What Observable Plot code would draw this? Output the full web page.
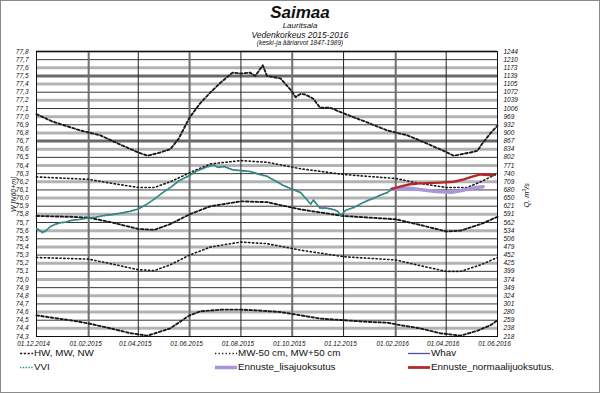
<!DOCTYPE html>
<html><head><meta charset="utf-8">
<script src="https://cdn.jsdelivr.net/npm/d3@7"></script>
<script src="https://cdn.jsdelivr.net/npm/@observablehq/plot@0.6"></script>
<style>
html,body{margin:0;padding:0;background:#fff;}
#wrap{position:relative;width:600px;height:393px;overflow:hidden;font-family:"Liberation Sans",Arial,sans-serif;background:#fff;}
#chart{position:absolute;left:0;top:0;}
#border{position:absolute;left:0;top:0;width:598px;height:391px;border:1px solid #8a8a8a;pointer-events:none;}
.t{position:absolute;left:0;width:600px;text-align:center;font-style:italic;color:#111;white-space:nowrap;line-height:1;}
.lg{position:absolute;font-size:9.8px;color:#111;white-space:nowrap;display:flex;align-items:center;line-height:1;}
.lg svg{display:block;}
.ax{position:absolute;font-style:italic;color:#111;white-space:nowrap;line-height:1;transform-origin:center center;}
</style>
</head><body>
<div id="wrap">
  <div id="chart"></div>
  <div class="t" style="top:4px;font-size:17px;font-weight:bold;">Saimaa</div>
  <div class="t" style="top:22px;font-size:8px;">Lauritsala</div>
  <div class="t" style="top:30.5px;font-size:8.5px;">Vedenkorkeus 2015-2016</div>
  <div class="t" style="top:40px;font-size:6.5px;">(keski-ja ääriarvot 1847-1989)</div>
  <div id="legend"></div>
  <div id="border"></div>
</div>
<script>
// ---- Data ----
const wLevels = [74.3,74.4,74.5,74.6,74.7,74.8,74.9,75.0,75.1,75.2,75.3,75.4,75.5,75.6,75.7,75.8,75.9,76.0,76.1,76.2,76.3,76.4,76.5,76.6,76.7,76.8,76.9,77.0,77.1,77.2,77.3,77.4,77.5,77.6,77.7,77.8];
const qLabels = ["218","238","259","280","301","324","349","374","399","425","452","479","506","534","562","591","621","650","680","709","740","771","802","834","867","900","932","969","1006","1039","1072","1105","1139","1173","1210","1244"];
const xTicks = ["2014-12-01","2015-02-01","2015-04-01","2015-06-01","2015-08-01","2015-10-01","2015-12-01","2016-02-01","2016-04-01","2016-06-01"];
const xDomain = ["2014-12-01","2016-06-01"];

const HW = [["2014-12-01",77.03],["2014-12-20",76.94],["2015-01-22",76.83],["2015-02-15",76.77],["2015-03-10",76.66],["2015-04-01",76.56],["2015-04-12",76.52],["2015-04-27",76.56],["2015-05-09",76.60],["2015-05-19",76.73],["2015-06-01",76.99],["2015-06-14",77.17],["2015-06-26",77.30],["2015-07-08",77.42],["2015-07-22",77.54],["2015-08-01",77.53],["2015-08-12",77.54],["2015-08-18",77.50],["2015-08-27",77.63],["2015-09-01",77.50],["2015-09-17",77.47],["2015-09-29",77.33],["2015-10-05",77.24],["2015-10-11",77.28],["2015-10-17",77.27],["2015-10-26",77.22],["2015-11-03",77.11],["2015-11-15",77.11],["2015-12-01",77.04],["2015-12-29",76.93],["2016-01-22",76.83],["2016-02-15",76.77],["2016-03-09",76.67],["2016-03-29",76.58],["2016-04-10",76.52],["2016-04-30",76.56],["2016-05-08",76.58],["2016-05-14",76.67],["2016-05-24",76.80],["2016-06-01",76.89]];
const MWp50 = [["2014-12-01",76.26],["2015-01-10",76.24],["2015-02-01",76.23],["2015-03-01",76.18],["2015-04-01",76.13],["2015-04-20",76.13],["2015-05-09",76.20],["2015-06-01",76.31],["2015-06-26",76.42],["2015-08-01",76.46],["2015-09-01",76.44],["2015-10-11",76.36],["2015-12-01",76.29],["2016-02-01",76.24],["2016-03-01",76.18],["2016-04-01",76.13],["2016-04-26",76.13],["2016-05-12",76.20],["2016-06-01",76.30]];
const MW = [["2014-12-01",75.78],["2015-01-10",75.77],["2015-02-01",75.76],["2015-03-01",75.70],["2015-04-01",75.62],["2015-04-20",75.61],["2015-05-09",75.68],["2015-06-01",75.80],["2015-06-26",75.90],["2015-08-01",75.96],["2015-09-01",75.95],["2015-10-11",75.86],["2015-12-01",75.78],["2016-02-01",75.74],["2016-03-01",75.67],["2016-04-01",75.59],["2016-04-18",75.60],["2016-05-12",75.68],["2016-06-01",75.77]];
const MWm50 = [["2014-12-01",75.27],["2015-02-01",75.25],["2015-03-01",75.19],["2015-04-01",75.12],["2015-04-20",75.11],["2015-05-09",75.18],["2015-06-01",75.30],["2015-06-26",75.40],["2015-08-01",75.46],["2015-09-01",75.44],["2015-10-11",75.36],["2015-12-01",75.28],["2016-02-01",75.24],["2016-03-01",75.17],["2016-04-01",75.10],["2016-04-18",75.10],["2016-05-12",75.18],["2016-06-01",75.27]];
const NW = [["2014-12-01",74.56],["2014-12-20",74.53],["2015-01-10",74.50],["2015-02-01",74.46],["2015-02-27",74.40],["2015-03-23",74.34],["2015-04-12",74.31],["2015-04-27",74.36],["2015-05-09",74.40],["2015-05-19",74.47],["2015-06-01",74.56],["2015-06-14",74.61],["2015-07-10",74.63],["2015-08-01",74.63],["2015-08-21",74.62],["2015-09-17",74.60],["2015-10-11",74.56],["2015-11-03",74.52],["2015-12-01",74.50],["2015-12-29",74.48],["2016-01-22",74.47],["2016-02-06",74.44],["2016-03-01",74.40],["2016-03-25",74.34],["2016-04-18",74.31],["2016-05-08",74.37],["2016-05-24",74.44],["2016-06-01",74.50]];
const OBS = [["2014-12-01",75.63],["2014-12-04",75.61],["2014-12-08",75.58],["2014-12-12",75.60],["2014-12-17",75.65],["2014-12-23",75.68],["2014-12-29",75.70],["2015-01-05",75.71],["2015-01-12",75.73],["2015-01-20",75.74],["2015-02-01",75.76],["2015-02-10",75.77],["2015-02-20",75.79],["2015-03-01",75.80],["2015-03-12",75.82],["2015-03-22",75.84],["2015-04-01",75.87],["2015-04-10",75.92],["2015-04-20",75.99],["2015-04-30",76.07],["2015-05-10",76.14],["2015-05-20",76.22],["2015-06-01",76.28],["2015-06-10",76.34],["2015-06-20",76.38],["2015-06-29",76.41],["2015-07-05",76.38],["2015-07-12",76.39],["2015-07-22",76.35],["2015-08-01",76.34],["2015-08-12",76.33],["2015-08-21",76.30],["2015-09-01",76.27],["2015-09-10",76.22],["2015-09-20",76.16],["2015-09-29",76.12],["2015-10-11",76.07],["2015-10-17",76.00],["2015-10-23",75.93],["2015-10-26",75.98],["2015-11-03",75.88],["2015-11-10",75.88],["2015-11-15",75.87],["2015-11-20",75.86],["2015-11-24",75.84],["2015-11-28",75.79],["2015-12-03",75.85],["2015-12-08",75.87],["2015-12-14",75.89],["2015-12-21",75.93],["2015-12-29",75.97],["2016-01-06",76.00],["2016-01-14",76.04],["2016-01-22",76.07],["2016-01-27",76.11]];
const FC_normal = [["2016-01-27",76.11],["2016-02-06",76.14],["2016-02-18",76.17],["2016-03-01",76.18],["2016-03-25",76.19],["2016-04-10",76.20],["2016-04-22",76.23],["2016-05-01",76.26],["2016-05-12",76.29],["2016-05-27",76.28]];
const FC_extra = [["2016-01-27",76.11],["2016-02-18",76.12],["2016-03-05",76.10],["2016-03-20",76.08],["2016-04-08",76.07],["2016-04-22",76.10],["2016-05-06",76.13],["2016-05-15",76.14]];

// ---- helpers ----
const D = s => new Date(s + "T00:00:00Z");
const rows = arr => arr.map(([d, v]) => ({date: D(d), value: v}));
const qMap = new Map(wLevels.map((w, i) => [w.toFixed(1), qLabels[i]]));
const darkLevels = new Set(["77.5","76.7"]);
const thickDates = new Set(["2015-02-01","2015-06-01","2015-10-01","2016-02-01"]);
const C = {purple:"#5b4aa8", green:"#18a070", lav:"#a996d8", red:"#b8262a"};
const DASH = "2.6,2.2", DOT = "1.3,2.6";
const isEven = w => Math.round(w * 10) % 2 === 0;
const gridRows = wLevels.map(w => ({w, kind: darkLevels.has(w.toFixed(1)) ? "dark" : isEven(w) ? "gray" : "black"}));

const lineOpts = {x:"date", y:"value"};
const chart = Plot.plot({
  width: 600, height: 393,
  marginLeft: 36, marginRight: 103, marginTop: 51, marginBottom: 57,
  x: {type: "utc", domain: xDomain.map(D)},
  y: {domain: [74.3, 77.8]},
  style: {fontFamily: "'Liberation Sans', Arial, sans-serif", fontStyle: "italic", fontSize: "6.5px", color: "#111", background: "transparent"},
  marks: [
    Plot.ruleY(gridRows.filter(r => r.kind === "gray"), {y: "w", stroke: "#b3b3b3", strokeWidth: 3}),
    Plot.ruleY(gridRows.filter(r => r.kind === "dark"), {y: "w", stroke: "#6a6a6a", strokeWidth: 3}),
    Plot.ruleY(gridRows.filter(r => r.kind === "black"), {y: "w", stroke: "#222", strokeWidth: 0.9}),
    Plot.ruleX(xTicks.filter(d => thickDates.has(d)).map(D), {stroke: "#6f6f6f", strokeWidth: 2}),
    Plot.ruleX(xTicks.filter(d => !thickDates.has(d)).map(D), {stroke: "#222", strokeWidth: 1}),
    Plot.frame({stroke: "#111", strokeWidth: 1}),
    Plot.line(rows(HW), {...lineOpts, stroke: "#1a1a1a", strokeWidth: 1.9, strokeDasharray: DASH}),
    Plot.line(rows(MW), {...lineOpts, stroke: "#1a1a1a", strokeWidth: 1.9, strokeDasharray: DASH}),
    Plot.line(rows(NW), {...lineOpts, stroke: "#1a1a1a", strokeWidth: 1.9, strokeDasharray: DASH}),
    Plot.line(rows(MWp50), {...lineOpts, stroke: "#1a1a1a", strokeWidth: 1.6, strokeDasharray: DOT}),
    Plot.line(rows(MWm50), {...lineOpts, stroke: "#1a1a1a", strokeWidth: 1.6, strokeDasharray: DOT}),
    Plot.line(rows(FC_extra), {...lineOpts, stroke: C.lav, strokeWidth: 3.5}),
    Plot.line(rows(FC_normal), {...lineOpts, stroke: C.red, strokeWidth: 2.4}),
    Plot.line(rows(OBS), {...lineOpts, stroke: C.purple, strokeWidth: 1.1}),
    Plot.line(rows(OBS), {...lineOpts, stroke: C.green, strokeWidth: 1.3, strokeDasharray: "1.5,1.5", dy: 0.6}),
    Plot.axisY({ticks: wLevels, tickSize: 0, tickPadding: 8, tickFormat: d => d.toFixed(1).replace(".", ","), label: null}),
    Plot.axisY({anchor: "right", ticks: wLevels, tickSize: 0, tickPadding: 6, tickFormat: d => qMap.get(d.toFixed(1)), label: null}),
    Plot.axisX({ticks: xTicks.map(D), tickSize: 0, tickPadding: 5, dx: -3, tickFormat: d3.utcFormat("%d.%m.%Y"), label: null})
  ]
});
document.getElementById("chart").appendChild(chart);

// axis titles
const wrap = document.getElementById("wrap");
function axTitle(html, cx, cy, size) {
  const el = document.createElement("div");
  el.className = "ax";
  el.style.fontSize = size + "px";
  el.innerHTML = html;
  wrap.appendChild(el);
  const w = el.offsetWidth, h = el.offsetHeight;
  el.style.left = (cx - w/2) + "px";
  el.style.top = (cy - h/2) + "px";
  el.style.transform = "rotate(-90deg)";
}
axTitle("W [N60+m]", 13, 194, 7);
axTitle("Q, m<sup style='font-size:0.7em'>3</sup>/s", 526, 195, 7.3);

// legend
const legendItems = [
  {x: 20, y: 353, w: 13, label: "HW, MW, NW", stroke: "#1a1a1a", sw: 1.6, dash: "2.2,1.6"},
  {x: 215, y: 353, w: 22, label: "MW-50 cm, MW+50 cm", stroke: "#1a1a1a", sw: 1.5, dash: "1.3,2.2"},
  {x: 408, y: 353, w: 22, label: "Whav", stroke: C.purple, sw: 1.3, dash: null},
  {x: 20, y: 367, w: 13, label: "VVI", stroke: C.green, sw: 1.6, dash: "1.4,1.4"},
  {x: 215, y: 367, w: 22, label: "Ennuste_lisajuoksutus", stroke: C.lav, sw: 3.6, dash: null},
  {x: 408, y: 367, w: 22, label: "Ennuste_normaalijuoksutus.", stroke: C.red, sw: 2.8, dash: null}
];
const lg = document.getElementById("legend");
legendItems.forEach(it => {
  const el = document.createElement("div");
  el.className = "lg";
  el.style.left = it.x + "px";
  el.style.top = (it.y - 6) + "px";
  el.style.height = "12px";
  el.innerHTML = `<svg width="${it.w + 1}" height="12"><line x1="0" x2="${it.w}" y1="6.5" y2="6.5" stroke="${it.stroke}" stroke-width="${it.sw}" ${it.dash ? `stroke-dasharray="${it.dash}"` : ""}/></svg><span>${it.label}</span>`;
  lg.appendChild(el);
});
</script>
</body></html>
